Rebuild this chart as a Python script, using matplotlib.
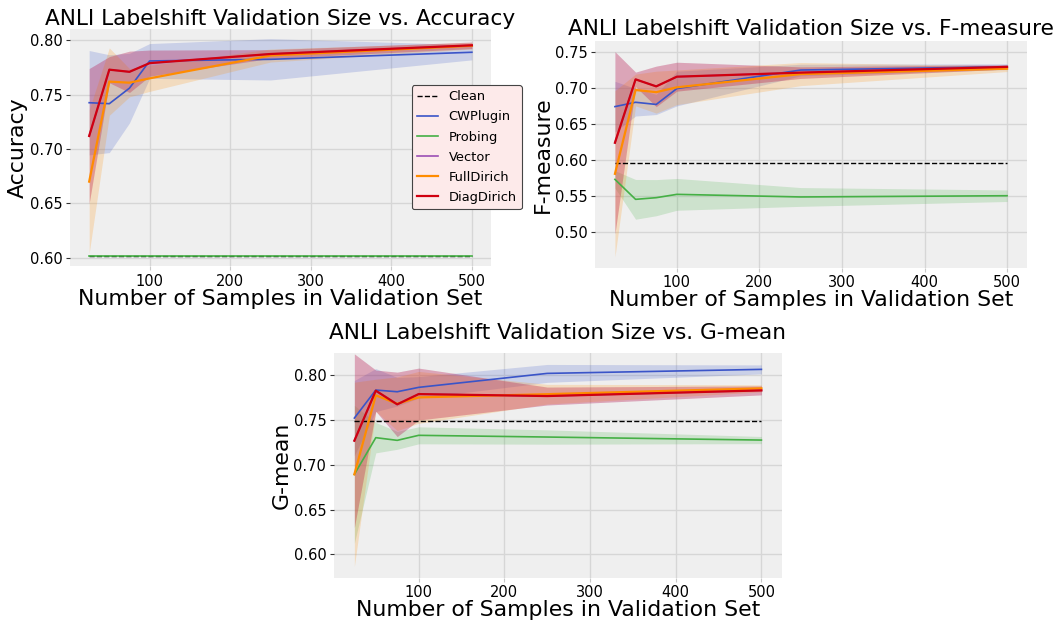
import numpy as np
import matplotlib

matplotlib.use("Agg")

import matplotlib.pyplot as plt

# Tamanos de validacion (eje x comun a los tres paneles).
tamanos = [25, 50, 75, 100, 250, 500]

metodos = ["CWPlugin", "Probing", "Vector", "FullDirich", "DiagDirich"]
colores = {
    "CWPlugin": "#3a54c8",
    "Probing": "#45b045",
    "Vector": "#9b4fb5",
    "FullDirich": "#ff8c00",
    "DiagDirich": "#d00010",
}

# --- Accuracy --------------------------------------------------------------
acc_clean = 0.602
acc_cw = [0.7426, 0.7417, 0.756, 0.781, 0.7825, 0.789]
acc_cw_std = [0.048, 0.045, 0.032, 0.016, 0.019, 0.007]
acc_probing = [0.602, 0.602, 0.602, 0.602, 0.602, 0.602]
acc_probing_std = [0.0, 0.0, 0.0, 0.0, 0.0, 0.0]
acc_full = [0.670, 0.762, 0.761, 0.765, 0.786, 0.795]
acc_full_std = [0.066, 0.031, 0.013, 0.012, 0.006, 0.003]
acc_diag = [0.712, 0.773, 0.771, 0.779, 0.7874, 0.7954]
acc_diag_std = [0.062, 0.012, 0.019, 0.012, 0.004, 0.003]
acc_vector = acc_diag
acc_vector_std = acc_diag_std

# --- F-measure -------------------------------------------------------------
f_clean = 0.5955
f_cw = [0.674, 0.680, 0.677, 0.699, 0.7246, 0.7292]
f_cw_std = [0.035, 0.019, 0.014, 0.024, 0.008, 0.004]
f_probing = [0.5733, 0.5457, 0.548, 0.5526, 0.549, 0.5507]
f_probing_std = [0.012, 0.0275, 0.025, 0.022, 0.013, 0.008]
f_full = [0.581, 0.697, 0.694, 0.7007, 0.719, 0.7265]
f_full_std = [0.115, 0.022, 0.029, 0.024, 0.016, 0.004]
f_diag = [0.624, 0.7117, 0.702, 0.7154, 0.721, 0.729]
f_diag_std = [0.126, 0.010, 0.028, 0.020, 0.008, 0.003]
f_vector = f_diag
f_vector_std = f_diag_std

# --- G-mean ----------------------------------------------------------------
g_clean = 0.7486
g_cw = [0.7523, 0.7836, 0.7817, 0.7866, 0.8022, 0.8067]
g_cw_std = [0.042, 0.024, 0.016, 0.012, 0.010, 0.005]
g_probing = [0.6894, 0.7304, 0.7274, 0.733, 0.7311, 0.7277]
g_probing_std = [0.077, 0.017, 0.010, 0.0095, 0.008, 0.004]
g_full = [0.6894, 0.7777, 0.7683, 0.7754, 0.779, 0.7855]
g_full_std = [0.103, 0.018, 0.030, 0.029, 0.011, 0.004]
g_diag = [0.727, 0.7829, 0.7676, 0.7791, 0.7769, 0.7832]
g_diag_std = [0.097, 0.023, 0.036, 0.029, 0.010, 0.005]
g_vector = g_diag
g_vector_std = g_diag_std


def dibujar_panel(eje, titulo, etiqueta_y, limpio, series, limites_y, yticks,
                  pad_titulo):
    eje.set_facecolor("#efefef")
    for lado in eje.spines.values():
        lado.set_visible(False)
    eje.grid(True, color="#d6d6d6", linewidth=1.0)
    eje.set_axisbelow(True)

    eje.plot([tamanos[0], tamanos[-1]], [limpio, limpio], color="black",
             linestyle="--", linewidth=1.0, label="Clean")
    for nombre in metodos:
        media, desv = series[nombre]
        media = np.array(media)
        desv = np.array(desv)
        color = colores[nombre]
        ancho = 1.6 if nombre in ("DiagDirich", "FullDirich") else 1.2
        eje.plot(tamanos, media, color=color, linewidth=ancho, label=nombre)
        eje.fill_between(tamanos, media - desv, media + desv,
                         color=color, alpha=0.2, linewidth=0)

    eje.set_ylim(*limites_y)
    eje.set_yticks(yticks)
    eje.set_yticklabels([f"{v:.2f}" for v in yticks])
    eje.set_xticks([100, 200, 300, 400, 500])
    eje.tick_params(labelsize=10.5, length=3, pad=2.5)
    eje.tick_params(axis="y", color="#333333")
    eje.tick_params(axis="x", color="#c8c8c8")
    eje.set_title(titulo, fontsize=15.6, pad=pad_titulo)
    eje.set_xlabel("Number of Samples in Validation Set", fontsize=15.8,
                   labelpad=0)
    eje.set_ylabel(etiqueta_y, fontsize=15.8, labelpad=1.5)


figura = plt.figure(figsize=(10.58, 6.21), dpi=100)

eje1 = figura.add_axes([0.0662, 0.5717, 0.3979, 0.3816])
dibujar_panel(
    eje1, "ANLI Labelshift Validation Size vs. Accuracy", "Accuracy", acc_clean,
    {
        "CWPlugin": (acc_cw, acc_cw_std),
        "Probing": (acc_probing, acc_probing_std),
        "Vector": (acc_vector, acc_vector_std),
        "FullDirich": (acc_full, acc_full_std),
        "DiagDirich": (acc_diag, acc_diag_std),
    },
    (0.5924, 0.8104), [0.60, 0.65, 0.70, 0.75, 0.80], 3.2,
)
leyenda = eje1.legend(loc="upper left", bbox_to_anchor=(0.812, 0.764),
                      borderaxespad=0, fontsize=9.4, facecolor="#fdeaea",
                      edgecolor="#444444", framealpha=1.0, fancybox=True,
                      handlelength=1.6, labelspacing=0.55)
leyenda.get_frame().set_linewidth(0.8)

eje2 = figura.add_axes([0.5627, 0.5689, 0.4077, 0.3651])
dibujar_panel(
    eje2, "ANLI Labelshift Validation Size vs. F-measure", "F-measure", f_clean,
    {
        "CWPlugin": (f_cw, f_cw_std),
        "Probing": (f_probing, f_probing_std),
        "Vector": (f_vector, f_vector_std),
        "FullDirich": (f_full, f_full_std),
        "DiagDirich": (f_diag, f_diag_std),
    },
    (0.4511, 0.7648), [0.50, 0.55, 0.60, 0.65, 0.70, 0.75], 4.0,
)

eje3 = figura.add_axes([0.3157, 0.0697, 0.4232, 0.3623])
dibujar_panel(
    eje3, "ANLI Labelshift Validation Size vs. G-mean", "G-mean", g_clean,
    {
        "CWPlugin": (g_cw, g_cw_std),
        "Probing": (g_probing, g_probing_std),
        "Vector": (g_vector, g_vector_std),
        "FullDirich": (g_full, g_full_std),
        "DiagDirich": (g_diag, g_diag_std),
    },
    (0.5739, 0.8253), [0.60, 0.65, 0.70, 0.75, 0.80], 9.6,
)

figura.savefig("out.png", dpi=100)
plt.close(figura)
